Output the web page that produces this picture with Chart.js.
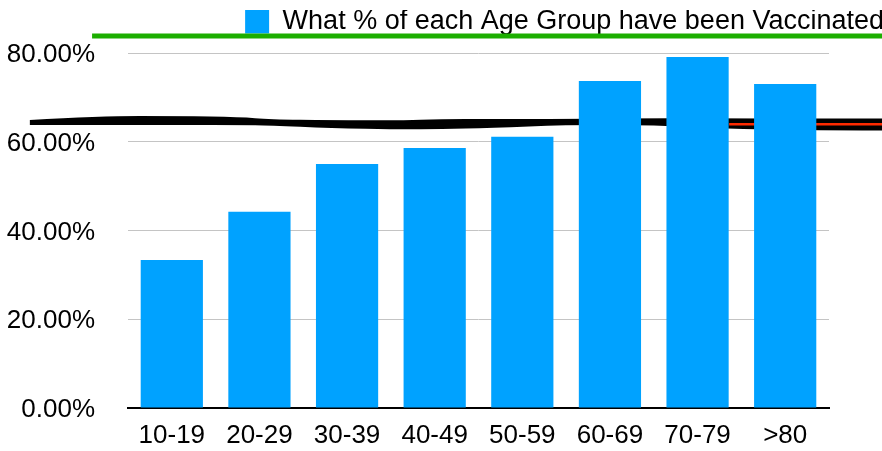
<!DOCTYPE html>
<html>
<head>
<meta charset="utf-8">
<script src="https://cdn.jsdelivr.net/npm/chart.js@4/dist/chart.umd.min.js"></script>
<style>
  html, body { margin: 0; padding: 0; background: #ffffff; }
  canvas { display: block; }
</style>
</head>
<body>
<canvas id="c" width="882" height="451"></canvas>
<script>
// ---- data ----
const categories = ['10-19', '20-29', '30-39', '40-49', '50-59', '60-69', '70-79', '>80'];
const vaccinatedPct = [33.35, 44.2, 55.0, 58.6, 61.1, 73.7, 79.1, 73.0];
const seriesLabel = 'What % of each Age Group have been Vaccinated';
const yTickValues = [0, 20, 40, 60, 80];

// hand-drawn annotation strokes (category index, percent)
const blackStrokeIdx = [-1.62, -0.82, 0.09, 0.78, 1.12, 1.81, 2.61, 3.07, 3.64, 4.51, 5.50, 6.49, 7.75, 8.2];
const blackStrokePct = [64.34, 64.79, 64.79, 64.68, 64.38, 64.0, 63.77, 64.0, 64.11, 64.45, 64.52, 64.0, 63.89, 63.89];
const redStrokeIdx = [6.36, 8.2];
const redStrokePct = [63.93, 63.93];
const greenStrokeIdx = [-0.91, 8.2];
const greenStrokePct = [83.83, 83.83];

// stroke styles (kept apart from the data)
const blackStrokeWidths = [5, 9, 9, 8, 6, 8, 9, 10, 9, 6, 7, 11, 12, 12];

const FONT = "'Liberation Sans', Arial, Helvetica, sans-serif";

function toPixels(chart, idxArr, pctArr) {
  const xs = chart.scales.x, ys = chart.scales.y;
  return idxArr.map((v, i) => ({ x: xs.getPixelForValue(v), y: ys.getPixelForValue(pctArr[i]) }));
}

const strokesPlugin = {
  id: 'strokes',
  beforeDatasetsDraw(chart) {
    const ctx = chart.ctx;
    ctx.save();
    // black variable-width stroke
    const pts = toPixels(chart, blackStrokeIdx, blackStrokePct);
    const top = pts.map((p, i) => ({ x: p.x, y: p.y - blackStrokeWidths[i] / 2 }));
    const bot = pts.map((p, i) => ({ x: p.x, y: p.y + blackStrokeWidths[i] / 2 })).reverse();
    const smooth = (arr, start) => {
      if (start) ctx.moveTo(arr[0].x, arr[0].y); else ctx.lineTo(arr[0].x, arr[0].y);
      for (let i = 1; i < arr.length - 1; i++) {
        const mx = (arr[i].x + arr[i + 1].x) / 2, my = (arr[i].y + arr[i + 1].y) / 2;
        ctx.quadraticCurveTo(arr[i].x, arr[i].y, mx, my);
      }
      ctx.lineTo(arr[arr.length - 1].x, arr[arr.length - 1].y);
    };
    ctx.beginPath();
    smooth(top, true);
    smooth(bot, false);
    ctx.closePath();
    ctx.fillStyle = '#000000';
    ctx.fill();

    // red stroke
    const r = toPixels(chart, redStrokeIdx, redStrokePct);
    ctx.beginPath();
    ctx.moveTo(r[0].x, r[0].y);
    for (let i = 1; i < r.length; i++) ctx.lineTo(r[i].x, r[i].y);
    ctx.strokeStyle = '#ff2a00';
    ctx.lineWidth = 2.5;
    ctx.stroke();

    // green stroke
    const g = toPixels(chart, greenStrokeIdx, greenStrokePct);
    ctx.beginPath();
    ctx.moveTo(g[0].x, g[0].y);
    for (let i = 1; i < g.length; i++) ctx.lineTo(g[i].x, g[i].y);
    ctx.strokeStyle = '#1cae00';
    ctx.lineWidth = 5;
    ctx.stroke();
    ctx.restore();
  }
};

new Chart(document.getElementById('c'), {
  type: 'bar',
  data: {
    labels: categories,
    datasets: [{
      label: seriesLabel,
      data: vaccinatedPct,
      backgroundColor: '#00a2ff',
      borderWidth: 0,
      barPercentage: 0.71,
      categoryPercentage: 1.0
    }]
  },
  options: {
    responsive: false,
    animation: false,
    layout: { padding: { top: 10, left: 0, right: 0, bottom: 0 } },
    plugins: {
      legend: {
        display: true,
        position: 'top',
        align: 'end',
        labels: {
          boxWidth: 24,
          boxHeight: 24,
          padding: -2,
          color: '#000000',
          font: { family: FONT, size: 27 }
        }
      },
      tooltip: { enabled: false }
    },
    scales: {
      x: {
        type: 'category',
        position: 'bottom',
        offset: true,
        grid: { display: false, drawTicks: false },
        border: { display: true, color: '#000000', width: 2 },
        ticks: { color: '#000000', padding: 12, maxRotation: 0, font: { family: FONT, size: 26 } },
        afterFit(s) { s.height = 43; }
      },
      xTop: {
        type: 'linear',
        position: 'top',
        display: true,
        grid: { display: false, drawTicks: false },
        border: { display: false },
        ticks: { display: false },
        afterFit(s) { s.height = 8; }
      },
      y: {
        type: 'linear',
        position: 'left',
        min: 0,
        max: 80,
        afterBuildTicks(s) { s.ticks = yTickValues.map(v => ({ value: v })); },
        grid: {
          drawTicks: true,
          tickLength: 33,
          tickColor: 'rgba(0,0,0,0)',
          color: (c) => (c.tick && c.tick.value === 0) ? 'rgba(0,0,0,0)' : '#c4c4c4',
          lineWidth: 1
        },
        border: { display: false },
        ticks: {
          color: '#000000',
          padding: 0,
          labelOffset: 2,
          font: { family: FONT, size: 26 },
          callback: (v) => Number(v).toFixed(2) + '%'
        },
        afterFit(s) { s.width = 128; }
      },
      yR: {
        type: 'linear',
        position: 'right',
        display: true,
        grid: { display: false, drawTicks: false },
        border: { display: false },
        ticks: { display: false },
        afterFit(s) { s.width = 53; }
      }
    }
  },
  plugins: [strokesPlugin]
});
</script>
</body>
</html>
